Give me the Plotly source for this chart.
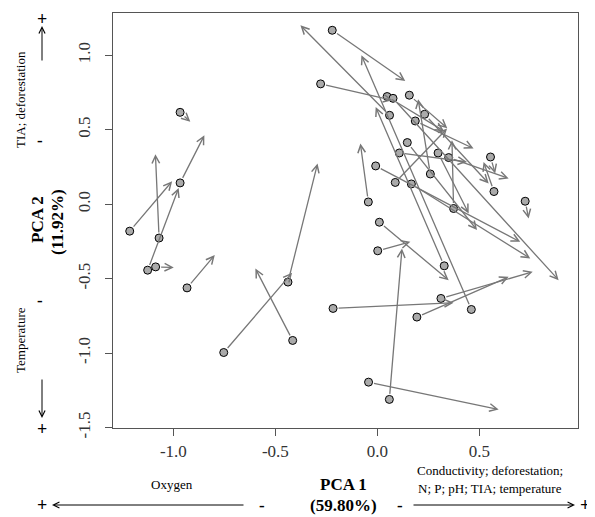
import plotly.graph_objects as go

# PCA scores: start (period 1) and end (period 2) positions
start_x = [-1.214, -1.070, -1.126, -1.087, -0.967, -0.967, -0.933, -0.753, -0.438, -0.415,
           -0.221, -0.278, 0.048, 0.077, 0.157, 0.060, 0.232, 0.186, 0.147, 0.108,
           0.298, 0.350, 0.555, -0.008, 0.260, 0.088, 0.167, 0.572, 0.725, -0.044,
           0.374, 0.010, 0.002, 0.328, 0.312, -0.217, 0.194, 0.461, -0.043, 0.059]
start_y = [-0.181, -0.227, -0.443, -0.421, 0.143, 0.617, -0.562, -0.996, -0.523, -0.915,
           1.168, 0.808, 0.723, 0.711, 0.732, 0.597, 0.604, 0.559, 0.414, 0.344,
           0.344, 0.313, 0.317, 0.257, 0.203, 0.146, 0.136, 0.085, 0.020, 0.015,
           -0.029, -0.121, -0.313, -0.414, -0.633, -0.700, -0.758, -0.707, -1.195, -1.311]
end_x = [-1.006, -1.088, -0.974, -0.998, -0.848, -0.917, -0.797, -0.418, -0.293, -0.598,
         0.137, 0.074, 0.328, 0.889, 0.343, -0.377, 0.546, 0.472, 0.489, 0.440,
         0.448, 0.644, 0.578, 0.701, 0.200, 0.342, 0.750, 0.521, 0.742, -0.083,
         0.366, 0.350, 0.162, -0.008, 0.762, 0.374, 0.644, -0.078, 0.595, 0.121]
end_y = [0.154, 0.336, 0.109, -0.425, 0.463, 0.553, -0.342, -0.461, 0.273, -0.432,
         0.828, 0.698, 0.490, -0.510, 0.510, 1.201, 0.139, 0.374, -0.174, 0.284,
         -0.062, 0.173, 0.206, -0.253, 0.705, 0.508, -0.364, 0.284, -0.096, 0.407,
         0.430, -0.510, -0.253, 0.653, -0.454, -0.662, -0.488, 1.000, -1.378, -0.297]

x_ticks = [-1.0, -0.5, 0.0, 0.5]
x_tick_labels = ["-1.0", "-0.5", "0.0", "0.5"]
y_ticks = [-1.5, -1.0, -0.5, 0.0, 0.5, 1.0]
y_tick_labels = ["-1.5", "-1.0", "-0.5", "0.0", "0.5", "1.0"]

# the page body adds an 8px offset, so the figure is sized to fit inside the window
OFF = 8
W, H = 595 - OFF, 517 - OFF
# plot box in window pixels
L, R, T, B = 113, 578, 13, 428
SERIF = "Liberation Serif, Times New Roman, serif"

def px(xp):
    return (xp - L) / (R - L)

def py(yp):
    return (B - yp) / (B - T)

fig = go.Figure()
fig.add_trace(go.Scatter(
    x=start_x, y=start_y, mode="markers",
    marker=dict(size=8, color="#aaaaaa", line=dict(color="black", width=1)),
    hoverinfo="skip", showlegend=False))

ann = []
for a, b, c, d in zip(start_x, start_y, end_x, end_y):
    ann.append(dict(x=c, y=d, ax=a, ay=b, xref="x", yref="y", axref="x", ayref="y",
                    showarrow=True, arrowhead=5, arrowsize=1.15, arrowwidth=1.3,
                    arrowcolor="#777777", startstandoff=4, text=""))

def txt(s, xp, yp, size=13, angle=0, bold=False):
    if bold:
        s = "<b>" + s + "</b>"
    return dict(text=s, x=px(xp), y=py(yp), xref="paper", yref="paper",
                showarrow=False, textangle=angle, xanchor="center", yanchor="middle",
                font=dict(family=SERIF, size=size, color="black"))

def arr(x_head, y_head, x_tail, y_tail):
    return dict(text="", x=px(x_head), y=py(y_head), xref="paper", yref="paper",
                ax=x_tail - x_head, ay=y_tail - y_head, showarrow=True,
                arrowhead=5, arrowsize=1.2, arrowwidth=1, arrowcolor="black")

# axis titles
ann.append(txt("PCA 2", 38, 220, size=17, angle=-90, bold=True))
ann.append(txt("(11.92%)", 57, 222, size=17, angle=-90, bold=True))
ann.append(txt("PCA 1", 343, 484, size=17, bold=True))
ann.append(txt("(59.80%)", 343, 505, size=17, bold=True))

# left side: TIA; deforestation (top), Temperature (bottom)
ann.append(txt("TIA; deforestation", 20, 100, size=13, angle=-90))
ann.append(txt("-", 40, 140, size=17, bold=True))
ann.append(txt("+", 42, 19, size=18, bold=True))
ann.append(arr(42, 26, 42, 62))
ann.append(txt("Temperature", 20, 340, size=13, angle=-90))
ann.append(txt("-", 40, 300, size=17, bold=True))
ann.append(arr(42, 418, 42, 378))
ann.append(txt("+", 42, 429, size=18, bold=True))

# bottom: Oxygen (left), Conductivity etc (right)
ann.append(txt("Oxygen", 172, 484, size=13))
ann.append(txt("+", 42, 505, size=18, bold=True))
ann.append(arr(52, 505, 245, 505))
ann.append(txt("-", 262, 505, size=17, bold=True))
ann.append(txt("Conductivity; deforestation;", 490, 470, size=13))
ann.append(txt("N; P; pH; TIA; temperature", 490, 488, size=13))
ann.append(txt("-", 400, 505, size=17, bold=True))
ann.append(arr(575, 505, 412, 505))
ann.append(txt("+", 585, 505, size=18, bold=True))

axis_common = dict(showgrid=False, zeroline=False, showline=True, mirror=True,
                   linecolor="#555555", linewidth=1.2, ticks="outside", ticklen=7,
                   tickcolor="#555555", tickwidth=1.2,
                   tickfont=dict(family=SERIF, size=17, color="#333333"))

fig.update_layout(
    width=W, height=H,
    margin=dict(l=L - OFF, r=(595 - R), t=T - OFF, b=(517 - B)),
    plot_bgcolor="white", paper_bgcolor="white",
    xaxis=dict(range=[-1.296, 0.984], tickvals=x_ticks, ticktext=x_tick_labels,
               automargin=False, **axis_common),
    yaxis=dict(range=[-1.503, 1.284], tickvals=y_ticks, ticktext=y_tick_labels,
               tickangle=-90, ticklabelstandoff=8, automargin=False, **axis_common),
    annotations=ann,
    showlegend=False,
)

fig.write_html("out.html")
